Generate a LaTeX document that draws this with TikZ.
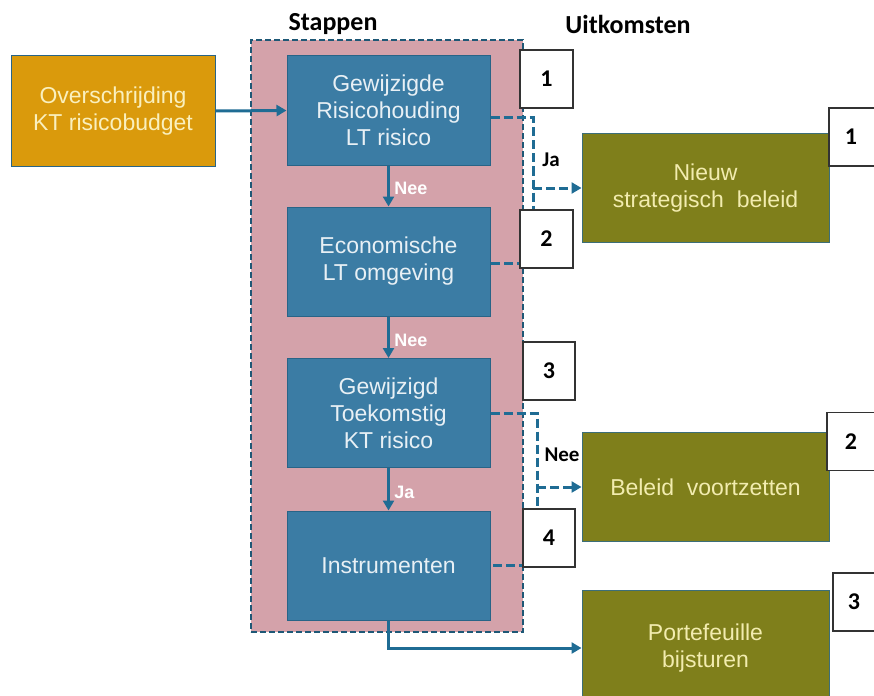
\documentclass[tikz,border=0pt]{standalone}
\usepackage{fontspec}
\setmainfont{Liberation Sans}
\newfontfamily\calib{Carlito}
\usetikzlibrary{arrows.meta,calc}
\definecolor{orangebox}{RGB}{218,154,12}
\definecolor{bluebox}{RGB}{59,124,164}
\definecolor{blueedge}{RGB}{40,100,135}
\definecolor{pinkbox}{RGB}{212,162,170}
\definecolor{contedge}{RGB}{30,88,118}
\definecolor{greenbox}{RGB}{127,127,27}
\definecolor{greenedge}{RGB}{60,110,120}
\definecolor{arrowcol}{RGB}{31,108,148}
\definecolor{creamtext}{RGB}{250,240,190}
\definecolor{bluetext}{RGB}{232,240,245}
\definecolor{greentext}{RGB}{242,236,175}
\tikzset{
  boxtext/.style={align=center, font=\fontsize{23}{27}\selectfont},
  origbox/.style={boxtext, fill=orangebox, draw=blueedge, line width=1pt, text=creamtext, minimum width=204pt, minimum height=110pt, inner sep=0pt},
  stepbox/.style={boxtext, fill=bluebox, draw=blueedge, line width=1pt, text=bluetext, minimum width=203pt, minimum height=109pt, inner sep=0pt},
  outbox/.style={boxtext, fill=greenbox, draw=greenedge, line width=1pt, text=greentext, minimum width=247pt, minimum height=109pt, inner sep=0pt},
  numbox/.style={fill=white, draw=black!80, line width=1.5pt, font=\calib\bfseries\fontsize{24}{28}\selectfont, inner sep=0pt},
  container/.style={fill=pinkbox, draw=contedge, line width=2pt, dash pattern=on 6pt off 3pt, minimum width=272pt, minimum height=592pt, inner sep=0pt},
  header/.style={font=\calib\bfseries\fontsize{26}{30}\selectfont},
  arr/.style={draw=arrowcol, line width=3pt, -{Triangle[length=10pt,width=11pt]}},
  dashline/.style={draw=arrowcol, line width=3pt, dash pattern=on 9pt off 4pt},
  dasharr/.style={dashline, -{Triangle[length=10pt,width=11pt]}},
  whitelbl/.style={text=white, font=\bfseries\fontsize{18}{20}\selectfont},
  blacklbl/.style={text=black, font=\calib\bfseries\fontsize{21}{24}\selectfont},
}
\begin{document}
\begin{tikzpicture}[x=1pt,y=-1pt]
\useasboundingbox (0,0) rectangle (874,695);
\fill[white] (0,0) rectangle (874,695);

% headers
\node[header] (hstap) at (333,24) {Stappen};
\node[header] (huit) at (628,24) {Uitkomsten};

% container
\node[container] (cont) at (387,336) {};

% origin
\node[origbox] (orig) at (113,111) {Overschrijding\\KT risicobudget};

% steps
\node[stepbox] (s1) at (388.5,110.5) {Gewijzigde\\Risicohouding\\LT risico};
\node[stepbox] (s2) at (388.5,261.5) {Economische\\LT omgeving};
\node[stepbox] (s3) at (388.5,413) {Gewijzigd\\Toekomstig\\KT risico};
\node[stepbox] (s4) at (388.5,565.5) {Instrumenten};

% outcomes
\node[outbox] (o1) at (705.5,188) {Nieuw\\strategisch\ \ beleid};
\node[outbox] (o2) at (705.5,487) {Beleid\ \ voortzetten};
\node[outbox, minimum height=116pt] (o3) at (705.5,648) {Portefeuille\\bijsturen};

% junction coordinates
\coordinate (j1) at (533,118);
\coordinate (j2) at (533,263);
\coordinate (j3) at (537,413);
\coordinate (j4) at (537,565);

% connectors
\draw[arr] (orig.east) -- (s1.west);
\draw[arr] (s1.south) -- (s2.north) node[midway, right, whitelbl, xshift=1pt, yshift=-2pt] {Nee};
\draw[arr] (s2.south) -- (s3.north) node[midway, right, whitelbl, xshift=1pt, yshift=-3pt] {Nee};
\draw[arr] (s3.south) -- (s4.north) node[midway, right, whitelbl, xshift=1pt, yshift=-3pt] {Ja};

\draw[dashline] (s1.east |- j1) -- (j1) -- (j2) -- (s2.east |- j2);
\draw[dasharr] (j1 |- o1.west) -- (o1.west);
\node[blacklbl] (lja) at (551,160) {Ja};

\draw[dashline] (s3.east |- j3) -- (j3) -- (j4) -- (s4.east |- j4);
\draw[dasharr] (j3 |- o2.west) -- (o2.west);
\node[blacklbl] (lnee) at (562,455) {Nee};

\draw[arr] (s4.south) |- (o3.west);

% number boxes
\node[numbox, minimum width=53pt, minimum height=58pt] (n1) at (546.5,79) {1};
\node[numbox, minimum width=53pt, minimum height=58pt] (n2) at (546.5,239) {2};
\node[numbox, minimum width=52pt, minimum height=58pt] (n3) at (549,371) {3};
\node[numbox, minimum width=52pt, minimum height=58pt] (n4) at (549,538) {4};
\node[numbox, minimum width=52pt, minimum height=58pt] (m1) at (855,137) {\hspace*{-8pt}1};
\node[numbox, minimum width=52pt, minimum height=58pt] (m2) at (853,441.5) {\hspace*{-4pt}2};
\node[numbox, minimum width=52pt, minimum height=58pt] (m3) at (859,602) {\hspace*{-10pt}3};
\end{tikzpicture}
\end{document}
